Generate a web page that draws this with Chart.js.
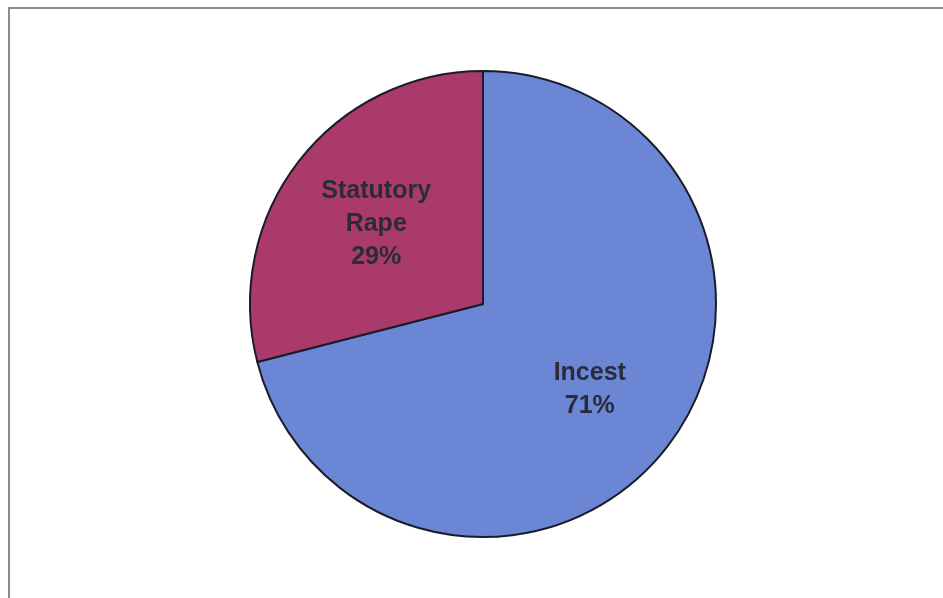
<!DOCTYPE html>
<html>
<head>
<meta charset="utf-8">
<script src="https://cdn.jsdelivr.net/npm/chart.js@4"></script>
<style>
  html, body { margin: 0; padding: 0; width: 943px; height: 598px; overflow: hidden; background: #ffffff; }
  .frame { position: absolute; left: 8px; top: 7px; width: 1000px; height: 1000px; border: 2px solid #8c8c8c; }
  .wrap { position: absolute; left: 242px; top: 63px; width: 482px; height: 482px; }
</style>
</head>
<body>
<div class="frame"></div>
<div class="wrap"><canvas id="pieChart"></canvas></div>
<script>
// Chart data
const categories = ['Incest', 'Statutory Rape'];
const labelLines = [['Incest', '71%'], ['Statutory', 'Rape', '29%']];
const shares = [71, 29];
const sliceColors = ['#6a86d4', '#a93a6b'];

// Draws the category + percent labels inside each slice
const sliceLabels = {
  id: 'sliceLabels',
  afterDatasetsDraw(chart) {
    const ctx = chart.ctx;
    const meta = chart.getDatasetMeta(0);
    ctx.save();
    ctx.font = 'bold 25px "Liberation Sans", Arial, sans-serif';
    ctx.fillStyle = '#2b2b3a';
    ctx.textAlign = 'center';
    ctx.textBaseline = 'middle';
    meta.data.forEach((arc, i) => {
      const mid = (arc.startAngle + arc.endAngle) / 2;
      const r = arc.outerRadius * 0.58;
      const cx = arc.x + Math.cos(mid) * r;
      const cy = arc.y + Math.sin(mid) * r + 3;
      const lines = labelLines[i];
      const lh = 33;
      const top = cy - (lines.length - 1) * lh / 2;
      lines.forEach((t, j) => ctx.fillText(t, cx, top + j * lh));
    });
    ctx.restore();
  }
};

const ctx = document.getElementById('pieChart').getContext('2d');
new Chart(ctx, {
  type: 'pie',
  data: {
    labels: categories,
    datasets: [{
      data: shares,
      backgroundColor: sliceColors,
      borderColor: '#1c1c28',
      borderWidth: 2
    }]
  },
  options: {
    responsive: true,
    maintainAspectRatio: false,
    animation: false,
    layout: { padding: 7 },
    plugins: {
      legend: { display: false },
      tooltip: { enabled: false }
    }
  },
  plugins: [sliceLabels]
});
</script>
</body>
</html>
